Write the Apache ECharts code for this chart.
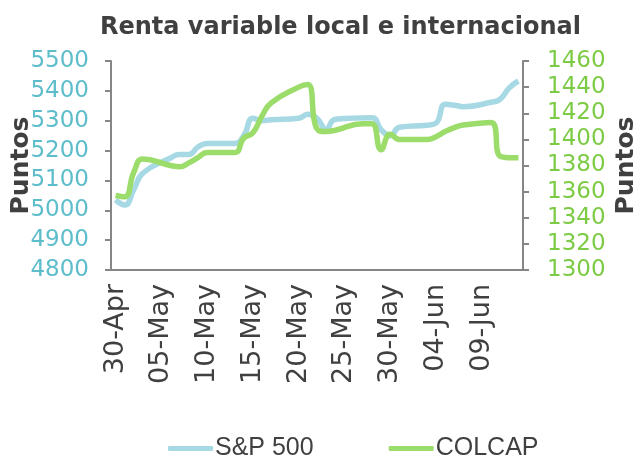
<!DOCTYPE html>
<html lang="es">
<head>
    <meta charset="UTF-8">
    <title>Renta variable</title>
    <script src="https://cdn.jsdelivr.net/npm/echarts@6/dist/echarts.min.js"></script>
    <style>
        html, body { margin: 0; padding: 0; background: #fff; }
        #main { width: 644px; height: 470px; }
    </style>
</head>
<body>
    <div id="main"></div>
    <script>
        // dias calendario 30-Apr a 13-Jun
        var fechas = ['30-Apr','01-May','02-May','03-May','04-May','05-May','06-May','07-May','08-May','09-May',
            '10-May','11-May','12-May','13-May','14-May','15-May','16-May','17-May','18-May','19-May',
            '20-May','21-May','22-May','23-May','24-May','25-May','26-May','27-May','28-May','29-May',
            '30-May','31-May','01-Jun','02-Jun','03-Jun','04-Jun','05-Jun','06-Jun','07-Jun','08-Jun',
            '09-Jun','10-Jun','11-Jun','12-Jun','13-Jun'];

        // S&P 500 (eje izquierdo), null = sin cotizacion
        var sp500 = [5035, 5018, 5070, 5125, null, null, 5175, 5187, 5187, 5212,
            5224, null, null, 5224, 5250, 5308, 5300, 5303, null, null,
            5308, 5322, 5308, 5272, 5305, null, null, null, 5310, 5270,
            5250, 5278, null, null, 5285, 5292, 5355, 5352, 5347, null,
            null, 5362, 5372, 5410, 5433];

        // COLCAP (eje derecho)
        var colcap = [1357, 1356, 1375, 1385, null, null, 1380, 1379, 1382, 1386,
            1390, null, null, 1390, 1401, 1405, 1418, 1428, null, null,
            1440, 1442, 1408, 1406, 1407, null, null, 1412, 1412, 1392,
            1404, 1400, null, null, 1400, 1402, 1406, 1409, 1411, null,
            null, 1413, 1387, 1386, 1386];

        // solo dias con dato, como pares [indice, valor]
        function pares(serie) {
            var out = [];
            serie.forEach(function (v, i) { if (v !== null) out.push([i, v]); });
            return out;
        }

        var chart = echarts.init(document.getElementById('main'));
        var gris = '#868686';
        var sinComa = function (v) { return String(v); };

        chart.setOption({
            animation: false,
            title: {
                text: 'Renta variable local e internacional',
                left: 95,
                top: 11,
                textStyle: { fontFamily: 'DejaVu Sans', fontWeight: 'bold', fontSize: 24, color: '#404040' }
            },
            legend: {
                bottom: 4,
                left: 163,
                icon: 'roundRect',
                itemWidth: 45,
                itemHeight: 5,
                itemGap: 75,
                textStyle: { fontFamily: 'Liberation Sans', fontSize: 25, color: '#404040', padding: [0, 0, 0, -3] },
                data: ['S&P 500', 'COLCAP']
            },
            grid: { left: 111, right: 121, top: 61, bottom: 200, outerBoundsMode: 'none', containLabel: false },
            xAxis: {
                type: 'category',
                data: fechas,
                boundaryGap: true,
                axisLine: { lineStyle: { color: gris, width: 2 } },
                axisTick: { interval: 4, length: 6, lineStyle: { color: gris, width: 2 } },
                axisLabel: {
                    interval: 4, rotate: 90, margin: 14,
                    fontFamily: 'DejaVu Sans', fontSize: 27, color: '#404040'
                },
                splitLine: { show: false }
            },
            yAxis: [{
                type: 'value',
                min: 4800, max: 5500, interval: 100,
                name: 'Puntos',
                nameLocation: 'middle',
                nameGap: 77,
                nameRotate: 90,
                nameMoveOverlap: false,
                nameTextStyle: { fontFamily: 'DejaVu Sans', fontWeight: 'bold', fontSize: 25, color: '#404040' },
                axisLine: { show: true, lineStyle: { color: gris, width: 2 } },
                axisTick: { show: true, length: 6, lineStyle: { color: gris, width: 2 } },
                axisLabel: { margin: 22, fontFamily: 'DejaVu Sans', fontSize: 23, color: '#5DBDCB', formatter: sinComa },
                splitLine: { show: false }
            }, {
                type: 'value',
                min: 1300, max: 1460, interval: 20,
                name: 'Puntos',
                nameLocation: 'middle',
                nameGap: 91,
                nameRotate: 90,
                nameMoveOverlap: false,
                nameTextStyle: { fontFamily: 'DejaVu Sans', fontWeight: 'bold', fontSize: 25, color: '#404040' },
                axisLine: { show: true, lineStyle: { color: gris, width: 2 } },
                axisTick: { show: true, length: 6, lineStyle: { color: gris, width: 2 } },
                axisLabel: { margin: 24, fontFamily: 'DejaVu Sans', fontSize: 23, color: '#7CCB45', formatter: sinComa },
                splitLine: { show: false }
            }],
            series: [{
                name: 'S&P 500',
                type: 'line',
                yAxisIndex: 0,
                data: pares(sp500),
                smooth: 0.5,
                symbol: 'none',
                lineStyle: { color: '#A6D9E4', width: 5.5 },
                itemStyle: { color: '#A6D9E4' }
            }, {
                name: 'COLCAP',
                type: 'line',
                yAxisIndex: 1,
                data: pares(colcap),
                smooth: 0.5,
                symbol: 'none',
                lineStyle: { color: '#9BDC6B', width: 5.5 },
                itemStyle: { color: '#9BDC6B' }
            }]
        });
    </script>
</body>
</html>
